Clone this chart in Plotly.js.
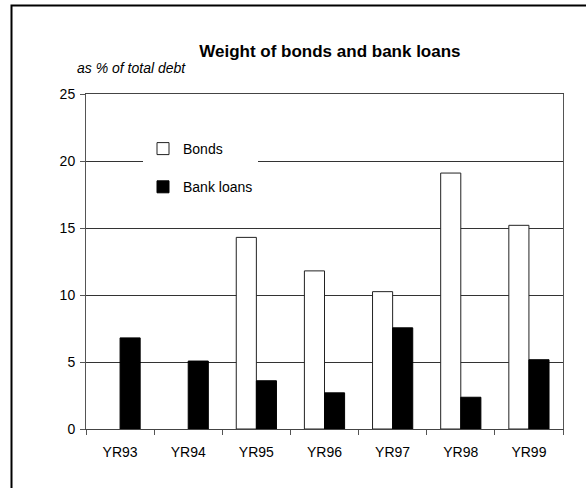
<!DOCTYPE html>
<html>
<head>
<meta charset="utf-8">
<script src="https://cdn.plot.ly/plotly-3.0.1.min.js"></script>
<style>html,body{margin:0;padding:0;background:#fff;}#chart{width:586px;height:488px;}</style>
</head>
<body>
<div id="chart"></div>
<script>
const years = ["YR93", "YR94", "YR95", "YR96", "YR97", "YR98", "YR99"];
const bonds = [null, null, 14.3, 11.8, 10.25, 19.1, 15.2];
const bankLoans = [6.8, 5.07, 3.6, 2.7, 7.55, 2.37, 5.17];
const yTicks = [0, 5, 10, 15, 20, 25];

const font = "Liberation Sans, Arial, sans-serif";

const traces = [
  {
    type: "bar", name: "Bonds", x: years, y: bonds, legendgroup: "a",
    marker: {color: "#ffffff", line: {color: "#222", width: 1}}
  },
  {
    type: "bar", name: "Bank loans", x: years, y: bankLoans, legendgroup: "b",
    marker: {color: "#000000", line: {color: "#000", width: 1}}
  }
];

const layout = {
  width: 586, height: 488,
  margin: {l: 86, r: 23, t: 94, b: 59},
  paper_bgcolor: "#fff", plot_bgcolor: "#fff",
  font: {family: font, size: 14, color: "#000"},
  barmode: "group", bargap: 0.41, bargroupgap: 0,
  title: {
    text: "<b>Weight of bonds and bank loans</b>",
    font: {family: font, size: 17, color: "#000"},
    x: 0.563, xanchor: "center", xref: "container",
    y: 1 - 51/488, yanchor: "middle", yref: "container"
  },
  xaxis: {
    type: "category", showline: true, mirror: true, linecolor: "#444", linewidth: 1,
    ticks: "outside", tickson: "boundaries", ticklen: 5, tickcolor: "#555",
    ticklabelstandoff: 10, showgrid: false, zeroline: false,
    tickfont: {family: font, size: 14, color: "#000"}
  },
  yaxis: {
    range: [0, 25], tickvals: yTicks, ticktext: yTicks.map(String),
    showline: true, mirror: true, linecolor: "#555", linewidth: 1,
    ticks: "outside", ticklen: 5, tickcolor: "#555",
    showgrid: true, gridcolor: "#333", gridwidth: 1, zeroline: false,
    ticklabelstandoff: 2,
    tickfont: {family: font, size: 14, color: "#000"}
  },
  showlegend: true,
  legend: {
    x: (143 - 86) / 477, xanchor: "left", y: (429 - 133) / 335, yanchor: "top",
    bgcolor: "#fff", borderwidth: 0, traceorder: "grouped", tracegroupgap: 17,
    font: {family: font, size: 14, color: "#000"}
  },
  annotations: [
    {
      text: "<i>as % of total debt</i>", xref: "paper", yref: "paper",
      x: (75 - 86) / 477, y: (429 - 68) / 335, xanchor: "left", yanchor: "middle",
      showarrow: false, font: {family: font, size: 14, color: "#000"}
    }
  ],
  shapes: [
    {
      type: "rect", xref: "paper", yref: "paper",
      x0: (11.5 - 86) / 477, x1: (620 - 86) / 477,
      y0: (429 - 520) / 335, y1: (429 - 5.5) / 335,
      line: {color: "#000", width: 2}, fillcolor: "rgba(0,0,0,0)", layer: "below"
    }
  ]
};

Plotly.newPlot("chart", traces, layout, {displayModeBar: false, staticPlot: true});
</script>
</body>
</html>
